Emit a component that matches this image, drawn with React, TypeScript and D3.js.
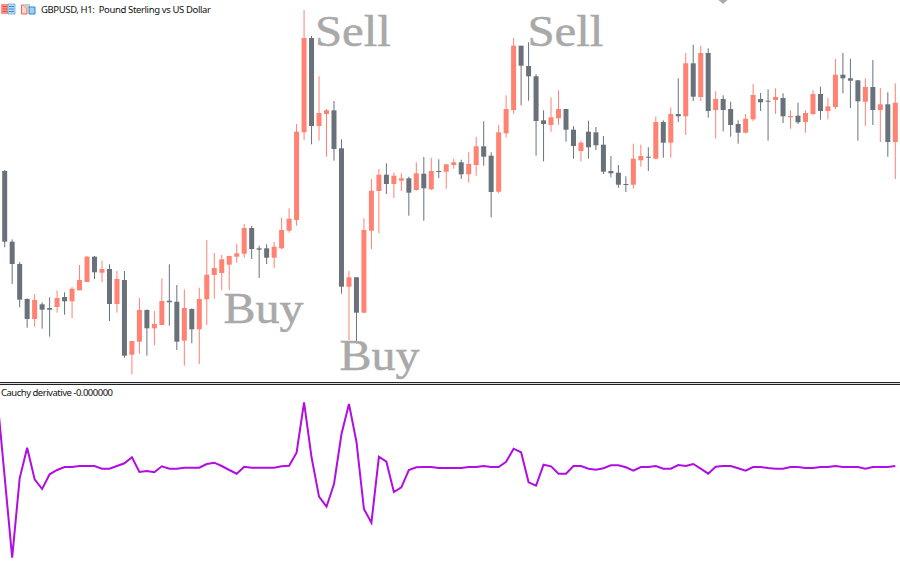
import React from "react";
import * as d3 from "d3";

// Prices in points above the window floor
const highs = [210,140.7,118,81.7,86,77.7,82.7,89.7,87.7,93,115,124,124,119.3,115.7,109,109,39,82,70.7,69,101.7,115.7,95,90.7,71.7,92.3,140,127,125,124.3,136.3,156,154,134.3,135.7,138,162.3,171.7,256,370,344,303.7,271,279,240.7,109,102.7,161.7,201,211,216.7,207.3,206.7,203.3,217.7,223,222,220.7,216,221.3,220.3,227.7,243,258.7,227.7,255,284.7,342,334.3,337.7,305.7,269.7,282.7,289.7,271,253.7,239.3,259.3,253,244,224,215,203.7,236.3,235.3,232.7,263.3,259.7,272.7,301.7,327,335.3,334.3,331.7,288.7,284.7,278.3,259.7,266,296,287,290.7,291.7,286.7,269.7,277.3,269.7,289.7,293.3,282,321,327,321.3,300,301.7,320,292,287.7,296.7];
const lows = [132.7,96,72.7,52.3,53.3,51.3,43.3,67.3,65.3,61.7,89.7,98,101,98,59,67.3,22.3,5.7,26.3,24.3,34.7,55,54.3,30,14.3,36.7,16,55,81.3,89.7,90,117.3,122.3,121,102,116,112,131,147.3,154.3,240,235.7,239.3,223.3,219.3,86.3,40,36.7,67.3,131,146.7,186,182,189,164.3,189.3,159.3,190,202,191.3,211.3,201,197.3,204.3,214.3,162.7,186.7,242.3,266.3,274.7,279.3,224.3,218.7,248.3,255.3,238.3,221.3,218.7,221.3,230,206,202.7,192.3,188,191.3,213.3,209,220.7,222.3,222.3,258,245,279,279,262.3,241.3,248.7,243.3,236.3,246.7,259,269,239.3,266,257,251.3,256,247.3,265,260.3,260.7,271,286.7,272,239.3,254,255,238,223.3,201];
const bodyTops = [209,138.3,116,81,80,75.7,72,82,83,91.3,100,123.3,123.3,111,111,101,100,39,70,70,56,79,79.3,78.3,72,71,81,105.3,112,120.7,124,126.7,152,152,131.7,131.7,133.3,150,161.3,248.3,342,342,267,269.7,269.7,231.7,102.7,102.7,150,189.3,205.3,205.3,204.3,201.7,201.7,206.7,206.3,209,209,215.7,217.7,217.7,216,233.7,233.7,224.3,247.7,271,334.3,334.3,314,303.7,259.7,262.7,271,271,250.3,237.3,248.3,247.7,235.3,209,207.3,196,221.3,224,223.3,258,258,266,266,316.7,316.7,327,327,281,281,271,256,261.3,285,281,279.3,283,282,264,264.3,267,286,286,273.7,305.3,305.3,301.7,299.7,293,293,275.7,275.7,277.3];
const bodyBottoms = [138.3,116,80.3,61,61,70.3,70.3,73,78.7,78.7,89.7,98,107.7,107.3,76,76,24.3,25.3,38.3,51.7,51.7,55,77.7,38.3,39.3,50.7,50.7,80.7,105,107,115.3,123.3,126.3,131,130.3,122.3,122.3,131.7,149.3,160,247.7,254,254,266,231,93.3,93.3,67.3,67.3,149.3,189,196,196,199.3,187.3,190,191.7,190.7,208.3,208.3,215,205.7,205.7,215,223.3,188,188.3,246.7,270,314.3,303.7,259,256,255,261.7,250.3,234,229,232.7,234.7,208.3,206.7,195.3,195.3,195.3,219.7,222.7,221.3,237.3,237.3,263.7,263.7,283.3,283,269,270,270,255,247.3,247.3,260.7,277.7,278.7,280,263.7,262.7,257.7,258,266,269,269,273,301.7,299.3,278.7,278.3,270,270,238,238];
const fallingCandles = [0,1,2,3,5,6,8,12,14,16,19,22,23,25,33,34,35,41,44,45,47,51,54,56,58,61,64,65,69,70,71,72,75,76,78,79,80,81,82,83,86,88,90,92,94,96,97,98,101,102,104,106,109,112,113,114,116,118];

// Cauchy derivative, first value belongs to the bar just left of the window
const derivative = [69.7,-10.3,-90.7,-11.3,19.3,-12.3,-22,-7.3,-3,0,0,1,1,1,-1.7,-1.7,1,3.7,9.7,-5,-4,-5.3,0.7,-1.7,-1.7,-0.7,-0.7,-0.7,3,4.3,1,-3,-6.7,0.3,-0.7,-0.7,-0.7,-0.7,0.7,1.3,14.3,64.7,9.7,-29.7,-39.7,-17,33,63,25.3,-42,-55.7,10.3,5.3,-25,-20.3,-3,-0.3,0,0,-1,-1,-1,-1,0,0,1,0,0,5.3,18.3,14.7,-15.3,-18.7,2.3,0.7,-6.7,-6.7,1,1,-1.7,-2.7,-1.3,1.7,1.7,-0.3,-3.7,0,0,1,-1.7,-1.7,2,1,3,-1.7,-6.7,0.3,1,1,-1.3,-3.7,0,0,-1,-1.7,-1.7,0,0,-1,-1,0,0,1,0,0,0,-1.7,0,0,0,1];

const title = "GBPUSD, H1:  Pound Sterling vs US Dollar";
const indicatorLabel = "Cauchy derivative -0.000000";
const signalTexts = ["Sell", "Sell", "Buy", "Buy"];
const signalBars = [41.45, 69.85, 29.25, 44.75];
const signalPrices = [334.5, 334.5, 57, 10];

const UP = "#FF8272";
const DOWN = "#69727B";
const LINE = "#B10EE2";
const SIGNAL = "#A9A9A9";

const x = d3.scaleLinear().domain([0, 119]).range([4.7, 895.3]);
const y = d3.scaleLinear().domain([0, 380]).range([380, 0]);
const yIndicator = d3.scaleLinear().domain([-100, 100]).range([567, 367]);
const derivativePath = d3
  .line<number>()
  .x((_, i) => x(i - 1))
  .y((d) => yIndicator(d))(derivative);

export default function App() {
  return (
    <svg
      width={900}
      height={574}
      viewBox="0 0 900 574"
      style={{ position: "absolute", left: 0, top: 0, display: "block", background: "#fff" }}
    >
      {highs.map((h, i) => {
        const color = fallingCandles.includes(i) ? DOWN : UP;
        const cx = x(i);
        return (
          <g key={i} fill={color}>
            <rect x={cx - 0.5} width={1} y={y(h)} height={y(lows[i]) - y(h)} />
            <rect
              x={cx - 2.5}
              width={5}
              y={y(bodyTops[i])}
              height={Math.max(1, y(bodyBottoms[i]) - y(bodyTops[i]))}
            />
          </g>
        );
      })}

      {signalTexts.map((t, i) => (
        <text
          key={i}
          x={x(signalBars[i])}
          y={y(signalPrices[i])}
          fontFamily="'Liberation Serif', serif"
          fontSize={45}
          fill={SIGNAL}
          stroke={SIGNAL}
          strokeWidth={0.5}
          textLength={t === "Sell" ? 76 : 80}
          lengthAdjust="spacingAndGlyphs"
        >
          {t}
        </text>
      ))}
      <path d="M718.5 0H727.5L723 4Z" fill={SIGNAL} />

      <g>
        <rect x={1} y={4} width={7} height={10} fill="#F9938B" />
        <rect x={8} y={4} width={7} height={10} fill="#BFDDF2" stroke="#3E93CF" strokeWidth={0.6} />
        <path d="M2.5 6.5H7M2.5 9H7M2.5 11.5H7" stroke="#EE4538" strokeWidth={1} />
        <path d="M9 6.5H14M9 9H14M9 11.5H14" stroke="#2E86C8" strokeWidth={1} />
        <path d="M21.5 5H27V14H21.5Z" fill="#FBD2CC" stroke="#F0645A" strokeWidth={1} />
        <rect x={24} y={4} width={6} height={4} fill="#C9C9C9" />
        <path d="M29 7H35V14H29Z" fill="#9AD0F0" stroke="#2E86C8" strokeWidth={1} />
      </g>
      <text x={41} y={13} fontFamily="'Noto Sans', sans-serif" fontSize={9.5} fill="#111" textLength={170} lengthAdjust="spacing" xmlSpace="preserve">
        {title}
      </text>

      <rect x={0} y={382} width={900} height={1} fill="#222" />
      <rect x={0} y={383} width={900} height={1} fill="#DDD" />
      <rect x={0} y={384} width={900} height={1} fill="#222" />

      <text x={1} y={396} fontFamily="'Noto Sans', sans-serif" fontSize={9.5} fill="#111" textLength={112} lengthAdjust="spacing">
        {indicatorLabel}
      </text>
      <path d={derivativePath ?? ""} fill="none" stroke={LINE} strokeWidth={2} strokeLinejoin="miter" />
    </svg>
  );
}
